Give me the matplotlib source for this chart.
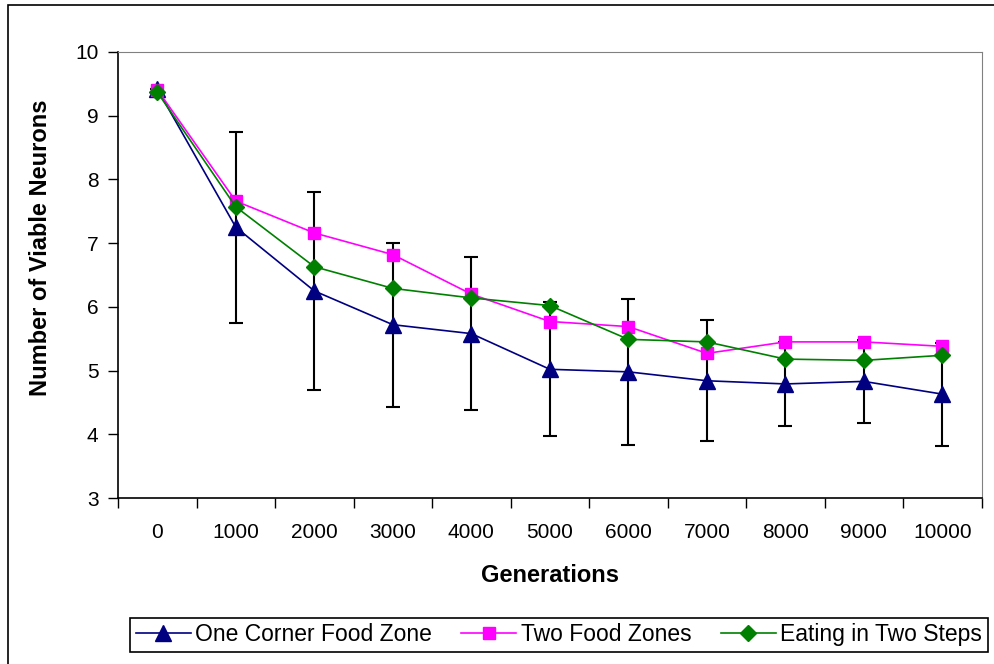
import numpy as np
import matplotlib
matplotlib.use("Agg")
import matplotlib.pyplot as plt
from matplotlib.patches import Rectangle

# data
generations = ["0", "1000", "2000", "3000", "4000", "5000",
               "6000", "7000", "8000", "9000", "10000"]
one_corner = [9.42, 7.25, 6.25, 5.72, 5.58, 5.02, 4.98, 4.84, 4.79, 4.83, 4.63]
one_corner_err = [0.0, 1.50, 1.56, 1.29, 1.20, 1.05, 1.15, 0.95, 0.66, 0.65, 0.81]
two_zones = [9.41, 7.66, 7.16, 6.82, 6.20, 5.77, 5.69, 5.27, 5.45, 5.45, 5.38]
two_steps = [9.37, 7.57, 6.63, 6.29, 6.14, 6.02, 5.49, 5.45, 5.18, 5.16, 5.24]

plt.rcParams["font.family"] = ["Liberation Sans", "DejaVu Sans"]

fig = plt.figure(figsize=(9.95, 6.64), dpi=100)
ax = fig.add_axes([0.1186, 0.25, 0.868, 0.6717])

x = np.arange(len(generations))

# error bars go under the markers (Excel style)
ax.errorbar(x, one_corner, yerr=one_corner_err, fmt="none", ecolor="black",
            elinewidth=1.5, capsize=5, capthick=1.5, zorder=2)
ax.plot(x, one_corner, color="#000080", marker="^", markersize=11, lw=1.2,
        label="One Corner Food Zone", zorder=3)
ax.plot(x, two_zones, color="#FF00FF", marker="s", markersize=9, lw=1.2,
        label="Two Food Zones", zorder=4)
ax.plot(x, two_steps, color="#008000", marker="D", markersize=8, lw=1.2,
        label="Eating in Two Steps", zorder=5)

ax.set_xlim(-0.5, len(generations) - 0.5)
ax.set_ylim(3, 10)
ax.set_yticks(range(3, 11))

# category labels centred, tick marks between categories
ax.set_xticks(x)
ax.set_xticklabels(generations)
ax.set_xticks(np.arange(-0.5, len(generations)), minor=True)
ax.tick_params(axis="x", which="major", length=0, pad=18, labelsize=15)
ax.tick_params(axis="x", which="minor", length=7, width=1, direction="out")
ax.tick_params(axis="y", length=7, width=1, direction="out", pad=7, labelsize=15)

for side in ["top", "right"]:
    ax.spines[side].set_color("#808080")
for side in ["left", "bottom"]:
    ax.spines[side].set_color("black")
    ax.spines[side].set_linewidth(1.2)

ax.set_xlabel("Generations", fontsize=17, fontweight="bold", labelpad=16)
ax.set_ylabel("Number of Viable Neurons", fontsize=17, fontweight="bold")
ax.yaxis.set_label_coords(-0.0764, 0.5617)

leg = fig.legend(loc="lower left", bbox_to_anchor=(0.1307, 0.018, 0.8623, 0.0527),
                 mode="expand", ncol=3, fontsize=16.5, frameon=True, fancybox=False,
                 framealpha=1, edgecolor="black", borderpad=0.25, handlelength=2.4,
                 handletextpad=0.2, borderaxespad=0)
leg.get_frame().set_linewidth(1.2)

# outer chart frame (only left/top edges are inside the picture)
fig.patches.append(Rectangle((8 / 995, -0.1), 1.2, 0.1 + (1 - 5 / 664),
                             transform=fig.transFigure, fill=False,
                             edgecolor="black", lw=1.2, clip_on=False))

fig.savefig("out.png", dpi=100)
